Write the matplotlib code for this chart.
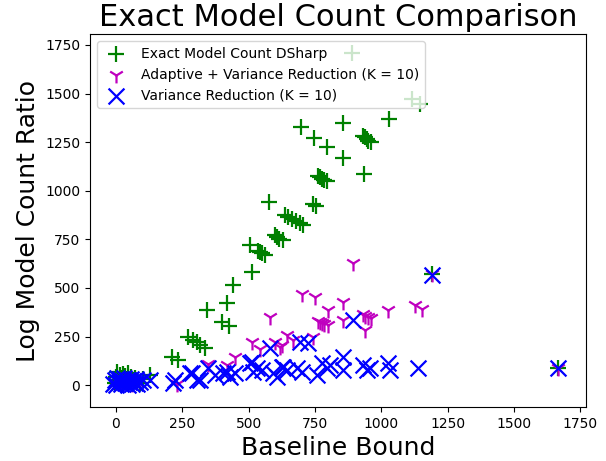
import matplotlib
matplotlib.use("Agg")
import matplotlib.pyplot as plt

# Exact Model Count DSharp
dsharp_x = [698, 747, 796, 856, 856, 1029, 931, 938, 945, 952, 960, 935,
            762, 770, 778, 786, 795, 743, 754, 637, 650, 665, 680, 693, 705,
            577, 600, 608, 616, 628, 505, 535, 543, 550, 560, 513, 441, 419,
            345, 400, 426, 272, 290, 305, 317, 336, 211, 234,
            -5, 0, 5, 10, 15, 20, 25, 30, 35, 40, 45, 50, 55, 60, 70, 80, 90, 100,
            128, 1192, 1667, 890, 1116, 1146]
dsharp_y = [1328, 1271, 1225, 1349, 1168, 1369, 1281, 1276, 1266, 1256, 1250, 1086,
            1076, 1070, 1063, 1057, 1050, 932, 921, 875, 865, 855, 845, 833, 823,
            942, 772, 760, 750, 746, 720, 690, 684, 678, 672, 582, 515, 422,
            384, 324, 304, 247, 232, 221, 206, 190, 144, 129,
            10, 40, 65, 25, 50, 35, 55, 20, 45, 30, 60, 15, 40, 25, 35, 20, 10, 30,
            51, 570, 90, 1709, 1472, 1446]

# Adaptive + Variance Reduction (K = 10)
adaptive_x = [894, 701, 750, 799, 856, 1026, 1127, 1154, 931, 940, 950, 960,
              939, 856, 762, 770, 778, 786, 800, 645, 667, 626, 743, 581, 513,
              543, 600, 618, 449, 419, 347, 230, 20, 60, 90, 1192, 1667]
adaptive_y = [628, 468, 453, 386, 427, 386, 412, 391, 365, 355, 350, 345,
              283, 335, 329, 324, 319, 314, 309, 257, 232, 206, 247, 350, 221,
              185, 221, 196, 144, 103, 108, 5, 10, 5, 20, 570, 90]

# Variance Reduction (K = 10)
variance_x = [1192, 1667, 894, 724, 694, 581, 532, 550, 607, 626, 645, 682,
              701, 758, 777, 796, 807, 856, 856, 931, 946, 958, 1026, 1033, 1139,
              128, 222, 287, 317, 347, 373, 419, 449, 513, 517, 215, 279, 305,
              404, 430, 505, 592, 630,
              -10, -5, 0, 5, 10, 15, 20, 25, 30, 35, 40, 45, 50, 55, 60, 65,
              70, 75, 80, 90, 100]
variance_y = [566, 87, 335, 216, 221, 190, 87, 77, 41, 93, 77, 87,
              67, 51, 113, 87, 103, 144, 77, 103, 77, 87, 113, 77, 87,
              26, 26, 62, 26, 87, 51, 67, 62, 118, 67, 10, 62, 26,
              62, 41, 113, 62, 93,
              5, 25, 0, 35, 15, 30, 5, 20, 38, 10, 28, 0, 18, 33, 8, 22,
              12, 30, 5, 15, 25]

fig = plt.figure(figsize=(6.06, 4.61), dpi=100)
ax = fig.add_subplot(111)
fig.subplots_adjust(left=0.1485, right=0.967, top=0.926, bottom=0.117)

ax.scatter(dsharp_x, dsharp_y, marker='+', c='g', s=130, linewidths=1.6,
           label='Exact Model Count DSharp')
ax.scatter(adaptive_x, adaptive_y, marker='1', c='m', s=130, linewidths=1.6,
           label='Adaptive + Variance Reduction (K = 10)')
ax.scatter(variance_x, variance_y, marker='x', c='b', s=130, linewidths=1.6,
           label='Variance Reduction (K = 10)')

ax.set_xlim(-98, 1772)
ax.set_ylim(-113, 1806)
ax.set_xticks([0, 250, 500, 750, 1000, 1250, 1500, 1750])
ax.set_yticks([0, 250, 500, 750, 1000, 1250, 1500, 1750])

ax.set_title('Exact Model Count Comparison', fontsize=22)
ax.set_xlabel('Baseline Bound', fontsize=18)
ax.set_ylabel('Log Model Count Ratio', fontsize=18)
ax.legend(loc='upper left')

plt.savefig('out.png')
